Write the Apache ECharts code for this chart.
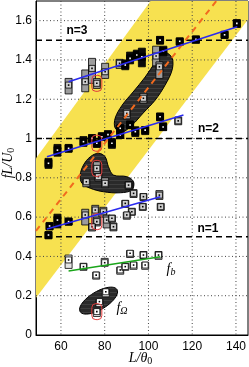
<!DOCTYPE html>
<html><head><meta charset="utf-8">
<script src="https://cdn.jsdelivr.net/npm/echarts@6/dist/echarts.min.js"></script>
<style>html,body{margin:0;padding:0;background:#fff}#c{width:249px;height:367px}</style>
</head><body><div id="c"></div>
<script>
// ---- axis / ticks ----
const xRange = [48.6, 145.5];
const yRange = [0, 1.7];
const xTicks = [60, 80, 100, 120, 140];
const yTicks = [0, 0.2, 0.4, 0.6, 0.8, 1.0, 1.2, 1.4, 1.6];
const modeLevels = [0.5, 1.0, 1.5];

// ---- data points [L/theta0, fL/U0, low, high] ----
const blackPts = [
  [89.4,1.374,1.35,1.40],[91.6,1.408,1.38,1.44],[94.7,1.425,1.40,1.45],[97.0,1.416,1.365,1.46],
  [105.3,1.501,1.48,1.52],[106.8,1.445,1.42,1.47],[114.3,1.495,1.48,1.51],[121.7,1.505,1.49,1.52],
  [134.8,1.528,1.51,1.545],[140.4,1.586,1.565,1.605],[87.1,1.052,1.03,1.07],
  [54.3,0.874,0.848,0.899],[58.4,0.941,0.91,0.97],[63.5,0.95,0.93,0.97],[70.3,0.984,0.96,1.01],
  [74.2,1.001,0.98,1.02],[76.4,0.976,0.96,0.99],[78.7,1.009,0.99,1.03],[81.5,1.02,1.0,1.04],
  [83.3,0.976,0.95,1.0],[87.1,1.018,1.0,1.04],[91.6,1.069,1.05,1.09],[94.0,1.035,1.01,1.06],
  [98.5,1.043,1.02,1.06],[105.3,1.111,1.09,1.13],[106.7,1.059,1.04,1.08],
  [54.3,0.509,0.495,0.525],[54.8,0.555,0.54,0.57],[58.4,0.585,0.545,0.615],[63.5,0.577,0.56,0.595]
];
const grayPts = [
  [63.5,1.272,1.227,1.306],[71.1,1.289,1.238,1.349],[74.2,1.357,1.281,1.408],[76.4,1.281,1.255,1.305],
  [80.2,1.340,1.306,1.383],[86.8,1.383,1.357,1.403],[103.5,1.42,1.37,1.47],
  [105.0,1.365,1.306,1.39],[97.7,1.205,1.18,1.23],[90.1,1.128,1.10,1.15],
  [113.6,1.09,1.07,1.11],
  [76.4,0.848,0.823,0.882],[71.6,0.78,0.77,0.79],[77.1,0.806,0.79,0.82],[80.2,0.772,0.75,0.80],[91.3,0.758,0.74,0.78],
  [71.1,0.611,0.56,0.64],[75.7,0.636,0.56,0.66],[76.4,0.577,0.555,0.60],[74.2,0.551,0.54,0.565],
  [79.4,0.627,0.60,0.65],[80.9,0.585,0.545,0.61],[84.0,0.551,0.53,0.57],[83.3,0.594,0.58,0.61],
  [93.2,0.721,0.70,0.74],[89.4,0.670,0.655,0.685],[92.4,0.627,0.61,0.645],[90.1,0.611,0.595,0.625],
  [97.7,0.704,0.685,0.72],[97.4,0.653,0.635,0.67],[105.0,0.712,0.69,0.735],[105.6,0.653,0.635,0.67],
  [90.9,0.763,0.745,0.78]
];
const fbPts = [
  [63.5,0.382,0.339,0.407],[70.3,0.348,0.33,0.365],[76.1,0.305,0.29,0.32],[80.0,0.368,0.35,0.39],
  [87.1,0.331,0.315,0.345],[89.4,0.348,0.33,0.365],[91.6,0.416,0.40,0.43],[93.2,0.356,0.34,0.37],
  [97.7,0.407,0.39,0.425],[98.5,0.356,0.34,0.37],[104.6,0.407,0.385,0.425]
];
const fOmegaPts = [[80.5,0.22,0.21,0.23],[77.6,0.17,0.16,0.18],[76.4,0.119,0.11,0.13]];
const highlighted = [[76.4,1.281],[76.4,0.976],[76.4,0.848],[76.4,0.577],[76.4,0.119]];

// ---- fitted lines ----
const fitN3 = [[63.5,1.289],[140.6,1.569]];
const fitN2 = [[53.6,0.907],[116,1.12]];
const fitN1 = [[53.6,0.539],[105.4,0.704]];
const fitFb = [[63.5,0.326],[105.4,0.398]];
const bandCenter = [[48.6,0.53],[131,1.70]];

// ---- shaded regions ----
const bandPoly = [[48.6,0.90],[101,1.70],[145.5,1.70],[145.5,1.606],[48.6,0.189]];
const regionA = [[107.6,1.440],[110.8,1.410],[110.8,1.349],[107.6,1.272],[103.1,1.196],[97.6,1.130],
  [92.6,1.069],[88.0,1.033],[84.8,1.053],[84.8,1.104],[88.0,1.170],[93.0,1.237],[98.5,1.313],[103.1,1.389],[105.3,1.430]];
const regionB = [[68.8,0.814],[70.3,0.865],[73.4,0.907],[77.2,0.925],[80.2,0.907],[81.7,0.857],[84.0,0.814],
  [90.1,0.806],[93.2,0.780],[92.4,0.738],[87.1,0.724],[79.5,0.729],[73.4,0.747],[69.6,0.772]];
const regionOmega = [77.2, 0.175];

// hatch pattern
const pc = document.createElement('canvas'); pc.width = 4; pc.height = 4;
const g = pc.getContext('2d'); g.fillStyle = '#2a2a2a'; g.fillRect(0,0,4,4);
g.fillStyle = '#3e3e3e'; g.fillRect(0,0,4,1);
const hatch = {image: pc, repeat: 'repeat'};

function polySeries(poly, fill, smooth) {
  return {type:'custom', clip:true, data:[[poly[0][0], poly[0][1]]], silent:true,
    renderItem:(p, api) => ({type:'polygon', shape:{points: poly.map(q => api.coord(q)), smooth: smooth},
      style:{fill: fill, stroke: smooth ? '#000' : null, lineWidth: 1}})};
}
function ptSeries(data, errFill, mFill, dot, ms) {
  return {type:'custom', clip:true, data: data, silent:true,
    renderItem:(p, api) => {
      const x = api.value(0);
      const c = api.coord([x, api.value(1)]);
      const lo = api.coord([x, api.value(2)]), hi = api.coord([x, api.value(3)]);
      const w = 7;
      return {type:'group', children:[
        {type:'rect', shape:{x:c[0]-w/2, y:hi[1], width:w, height:Math.max(lo[1]-hi[1],w)}, style:{fill:errFill, stroke:'#000', lineWidth:0.8}},
        {type:'rect', shape:{x:c[0]-ms/2, y:c[1]-ms/2, width:ms, height:ms}, style:{fill:mFill, stroke:'#000', lineWidth:0.8}},
        {type:'rect', shape:{x:c[0]-0.8, y:c[1]-0.8, width:1.6, height:1.6}, style:{fill:dot}}
      ]};
    }};
}
function lineSeries(d, color, w, dash) {
  return {type:'line', data:d, showSymbol:false, symbol:'none', silent:true,
    lineStyle:{color:color, width:w, type: dash || 'solid'}};
}

const chart = echarts.init(document.getElementById('c'), null, {renderer:'canvas'});
chart.setOption({
  animation:false,
  grid:{left:36, right:1, top:1, bottom:32, show:true, borderColor:'#000', borderWidth:1, backgroundColor:'#fff'},
  xAxis:{type:'value', min:xRange[0], max:xRange[1],
    axisLine:{show:true, lineStyle:{color:'#000'}}, axisTick:{show:false}, splitLine:{show:false},
    axisLabel:{customValues:xTicks, color:'#000', fontSize:12, fontFamily:'Liberation Sans', margin:6}},
  yAxis:{type:'value', min:yRange[0], max:yRange[1],
    axisLine:{show:true, lineStyle:{color:'#000'}}, axisTick:{show:false}, splitLine:{show:false},
    axisLabel:{customValues:yTicks, color:'#000', fontSize:12, fontFamily:'Liberation Sans', margin:4,
      formatter:v => String(+v.toFixed(1))}},
  series:[
    polySeries(bandPoly, '#F7E150', 0),
    {type:'custom', clip:true, silent:true, data: xTicks.map(v => [v, 0]),
      renderItem:(p, api) => { const cs = p.coordSys; const x = api.coord([api.value(0), 0])[0];
        return {type:'line', shape:{x1:x, y1:cs.y, x2:x, y2:cs.y+cs.height}, style:{stroke:'#444', lineWidth:1, lineDash:[1,2.5]}}; }},
    {type:'custom', clip:true, silent:true, data: yTicks.filter(v => v > 0).map(v => [xRange[0], v]),
      renderItem:(p, api) => { const cs = p.coordSys; const y = api.coord([xRange[0], api.value(1)])[1];
        return {type:'line', shape:{x1:cs.x, y1:y, x2:cs.x+cs.width, y2:y}, style:{stroke:'#444', lineWidth:1, lineDash:[1,2.5]}}; }},
    {type:'custom', clip:true, silent:true, data: modeLevels.map(v => [xRange[0], v]),
      renderItem:(p, api) => { const cs = p.coordSys; const y = api.coord([xRange[0], api.value(1)])[1];
        return {type:'line', shape:{x1:cs.x, y1:y, x2:cs.x+cs.width, y2:y}, style:{stroke:'#000', lineWidth:1.5, lineDash:[6,4]}}; }},
    polySeries(regionA, hatch, 0.35),
    polySeries(regionB, hatch, 0.35),
    {type:'custom', clip:true, silent:true, data:[regionOmega],
      renderItem:(p, api) => { const c = api.coord([api.value(0), api.value(1)]);
        const pts = []; const a = 21.5, b = 9, th = -31 * Math.PI / 180;
        for (let i = 0; i < 48; i++) { const t = i / 48 * 2 * Math.PI;
          const ex = a * Math.cos(t), ey = b * Math.sin(t);
          pts.push([c[0] + ex*Math.cos(th) - ey*Math.sin(th), c[1] + ex*Math.sin(th) + ey*Math.cos(th)]); }
        return {type:'polygon', shape:{points:pts}, style:{fill:hatch, stroke:'#000', lineWidth:1}}; }},
    lineSeries(bandCenter, '#F26A1E', 2, [6,5]),
    ptSeries(grayPts, '#9c9c9c', '#d0d0d0', '#000', 6),
    ptSeries(blackPts, '#0a0a0a', '#000', '#fff', 7),
    ptSeries(fbPts, '#e4e4e4', '#fff', '#000', 6),
    ptSeries(fOmegaPts, '#f2f2f2', '#fff', '#000', 6),
    {type:'custom', clip:true, silent:true, data: highlighted,
      renderItem:(p, api) => { const c = api.coord([api.value(0), api.value(1)]);
        return {type:'rect', shape:{x:c[0]-5, y:c[1]-8, width:10, height:16, r:4}, style:{fill:null, stroke:'#e03a3a', lineWidth:1}}; }},
    lineSeries(fitN3, '#2a2af0', 1.6),
    lineSeries(fitN2, '#2a2af0', 1.6),
    lineSeries(fitN1, '#2a2af0', 1.6),
    lineSeries(fitFb, '#1aa51a', 1.6)
  ],
  graphic:[
    {type:'text', x:77, y:31, style:{text:'n=3', fill:'#000', font:'bold 12px "Liberation Sans"', align:'center', verticalAlign:'middle'}},
    {type:'text', x:208.5, y:129, style:{text:'n=2', fill:'#000', font:'bold 12px "Liberation Sans"', align:'center', verticalAlign:'middle'}},
    {type:'text', x:208, y:229, style:{text:'n=1', fill:'#000', font:'bold 12px "Liberation Sans"', align:'center', verticalAlign:'middle'}},
    {type:'text', x:171, y:269, style:{text:'{a|f}{b|b}', align:'center', verticalAlign:'middle',
      rich:{a:{font:'italic 14px "Liberation Serif"', fill:'#000'}, b:{font:'italic 10px "Liberation Serif"', fill:'#000', padding:[6,0,0,0]}}}},
    {type:'text', x:122, y:308, style:{text:'{a|f}{b|Ω}', align:'center', verticalAlign:'middle',
      rich:{a:{font:'italic 14px "Liberation Serif"', fill:'#000'}, b:{font:'italic 10px "Liberation Serif"', fill:'#000', padding:[6,0,0,0]}}}},
    {type:'text', x:140.5, y:358, style:{text:'{a|L/θ}{b|0}', align:'center', verticalAlign:'middle',
      rich:{a:{font:'italic 14px "Liberation Serif"', fill:'#000'}, b:{font:'10px "Liberation Serif"', fill:'#000', padding:[6,0,0,0]}}}},
    {type:'text', x:8, y:163, rotation:Math.PI/2, style:{text:'{a|fL/U}{b|0}', align:'center', verticalAlign:'middle',
      rich:{a:{font:'italic 14px "Liberation Serif"', fill:'#000'}, b:{font:'10px "Liberation Serif"', fill:'#000', padding:[6,0,0,0]}}}}
  ]
});
</script></body></html>
